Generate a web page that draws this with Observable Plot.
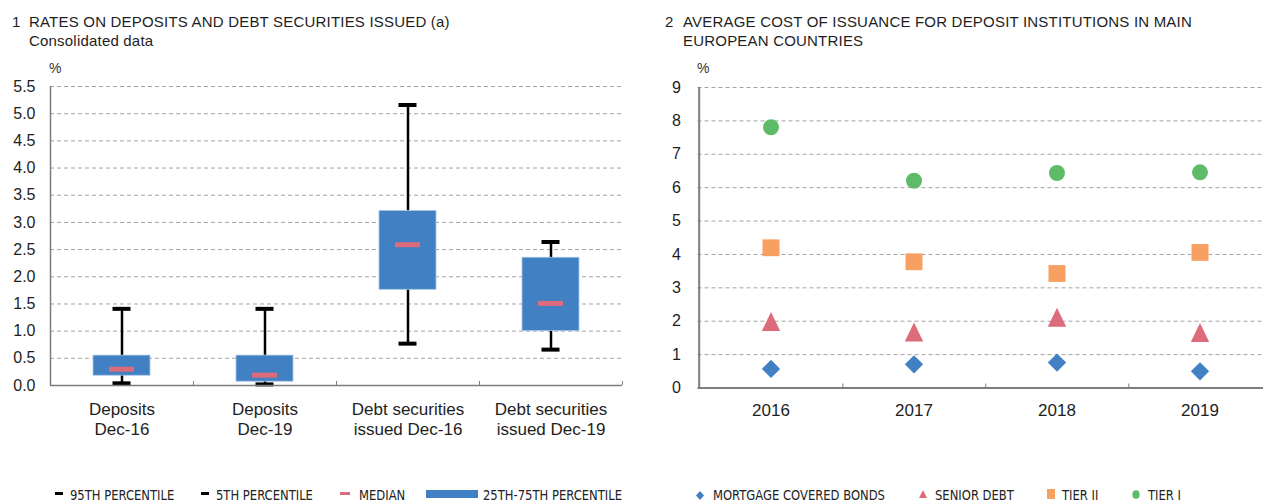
<!DOCTYPE html>
<html>
<head>
<meta charset="utf-8">
<script src="https://cdn.jsdelivr.net/npm/d3@7"></script>
<script src="https://cdn.jsdelivr.net/npm/@observablehq/plot@0.6"></script>
<style>
  body { margin: 0; background: #fff; }
  #root { position: relative; width: 1263px; height: 501px; overflow: hidden; background: #fff;
          font-family: "Liberation Sans", Arial, Helvetica, sans-serif; color: #1e1e1e; }
  .abs { position: absolute; white-space: nowrap; }
  .title { font-size: 15px; line-height: 18.5px; letter-spacing: 0.2px; }
  .pct { font-size: 14px; line-height: 14px; color: #333; }
  .leg { font-family: "Liberation Sans Narrow", "Arial Narrow", "DejaVu Sans Condensed", sans-serif;
         font-size: 14px; line-height: 14px; color: #222; transform: scaleX(0.92); transform-origin: 0 0; }
  .sw { position: absolute; }
  #left, #right { position: absolute; top: 0; width: 640px; }
  #left { left: 0; }
  #right { left: 640px; }
  #left svg, #right svg { max-width: none !important; }
</style>
</head>
<body>
<div id="root">
  <div class="abs title" style="left:12px;top:13px;">1</div>
  <div class="abs title" style="left:29px;top:13px;">RATES ON DEPOSITS AND DEBT SECURITIES ISSUED (a)<br>Consolidated data</div>
  <div class="abs title" style="left:665px;top:13px;">2</div>
  <div class="abs title" style="left:683px;top:13px;">AVERAGE COST OF ISSUANCE FOR DEPOSIT INSTITUTIONS IN MAIN<br>EUROPEAN COUNTRIES</div>
  <div class="abs pct" style="left:49px;top:61px;">%</div>
  <div class="abs pct" style="left:697px;top:61px;">%</div>
  <div id="left"></div>
  <div id="right"></div>
  <div id="legend"></div>
</div>
<script>
// ---------- Panel 1 data ----------
const categories = ["Deposits\nDec-16", "Deposits\nDec-19", "Debt securities\nissued Dec-16", "Debt securities\nissued Dec-19"];
const p95 = [1.41, 1.41, 5.16, 2.64];
const p5 = [0.04, 0.02, 0.77, 0.66];
const q75 = [0.55, 0.55, 3.21, 2.35];
const q25 = [0.18, 0.07, 1.76, 1.00];
const medians = [0.30, 0.19, 2.59, 1.51];
const leftTicks = [0, 0.5, 1.0, 1.5, 2.0, 2.5, 3.0, 3.5, 4.0, 4.5, 5.0, 5.5];
const leftLegend = ["95TH PERCENTILE", "5TH PERCENTILE", "MEDIAN", "25TH-75TH PERCENTILE"];

// ---------- Panel 2 data ----------
const years = ["2016", "2017", "2018", "2019"];
const mortgageCovered = [0.57, 0.71, 0.76, 0.50];
const seniorDebt = [1.99, 1.68, 2.12, 1.66];
const tierII = [4.20, 3.78, 3.43, 4.06];
const tierI = [7.81, 6.21, 6.44, 6.46];
const rightTicks = [0, 1, 2, 3, 4, 5, 6, 7, 8, 9];
const rightLegend = ["MORTGAGE COVERED BONDS", "SENIOR DEBT", "TIER II", "TIER I"];

const BLUE = "#4080c3", PINK = "#dc6b7b", ORANGE = "#f7a062", GREEN = "#5ebc69";
const GRID = "#a3a3a3", AXIS = "#7d7d7d";
const FONT = "'Liberation Sans', Arial, Helvetica, sans-serif";

// custom marker shapes (centered on their bounding box)
const diamondSym = {draw(ctx) { const h = 9.15; ctx.moveTo(0, -h); ctx.lineTo(h, 0); ctx.lineTo(0, h); ctx.lineTo(-h, 0); ctx.closePath(); }};
const triangleSym = {draw(ctx) { const w = 9.2, h = 9.5; ctx.moveTo(0, -h); ctx.lineTo(w, h); ctx.lineTo(-w, h); ctx.closePath(); }};
const squareSym = {draw(ctx) { const w = 8.5, h = 8.4; ctx.rect(-w, -h, 2 * w, 2 * h); }};

// ---------- Panel 1 ----------
const boxes = categories.map((c, i) => ({c, hi: p95[i], lo: p5[i], q3: q75[i], q1: q25[i], med: medians[i]}));
const L = {w: 640, h: 450, ml: 50, mr: 18, mt: 86, mb: 65};
const lBand = (L.w - L.ml - L.mr) / categories.length;
const lFrameH = L.h - L.mt - L.mb;

const left = Plot.plot({
  width: L.w, height: L.h,
  marginLeft: L.ml, marginRight: L.mr, marginTop: L.mt, marginBottom: L.mb,
  x: {type: "band", domain: categories, padding: 0, axis: null},
  y: {domain: [0, 5.5], axis: null},
  style: {fontFamily: FONT, fontSize: "16px", color: "#1e1e1e", background: "transparent", overflow: "visible", maxWidth: "none"},
  marks: [
    Plot.ruleY(leftTicks.filter(d => d > 0), {y: d => d, stroke: GRID, strokeWidth: 1, strokeDasharray: "4,3"}),
    Plot.ruleX(boxes, {x: "c", y1: "lo", y2: "hi", stroke: "#000", strokeWidth: 2.5}),
    Plot.barY(boxes, {x: "c", y1: "q1", y2: "q3", fill: BLUE, stroke: "#a9c5e6", strokeWidth: 0.8,
                      insetLeft: (lBand - 57) / 2, insetRight: (lBand - 57) / 2}),
    Plot.tickY(boxes, {x: "c", y: "hi", stroke: "#000", strokeWidth: 4, insetLeft: (lBand - 18) / 2, insetRight: (lBand - 18) / 2}),
    Plot.tickY(boxes, {x: "c", y: "lo", stroke: "#000", strokeWidth: 4, insetLeft: (lBand - 18) / 2, insetRight: (lBand - 18) / 2}),
    Plot.tickY(boxes, {x: "c", y: "med", stroke: PINK, strokeWidth: 5, insetLeft: (lBand - 25) / 2, insetRight: (lBand - 25) / 2}),
    Plot.ruleY([0], {y: d => d, stroke: AXIS, strokeWidth: 1.5}),
    Plot.ruleX([categories[0]], {x: d => d, dx: -lBand / 2, stroke: AXIS, strokeWidth: 1.5}),
    Plot.ruleX(categories, {x: d => d, dx: lBand / 2, insetTop: lFrameH - 4, stroke: AXIS, strokeWidth: 1}),
    Plot.text(leftTicks, {y: d => d, text: d => d.toFixed(1), frameAnchor: "left", textAnchor: "end", dx: -15, fontSize: 16, fill: "#1e1e1e"}),
    Plot.text(categories, {x: d => d, text: d => d, frameAnchor: "bottom", lineAnchor: "top", dy: 15, fontSize: 17, lineHeight: 1.18, fill: "#1e1e1e"})
  ]
});
document.getElementById("left").appendChild(left);

// ---------- Panel 2 ----------
const R = {w: 640, h: 450, ml: 57.5, mr: 8, mt: 87, mb: 62.5};
const rBand = (R.w - R.ml - R.mr) / years.length;
const rFrameH = R.h - R.mt - R.mb;
const pts = (vals) => years.map((y, i) => ({year: y, v: vals[i]}));

const right = Plot.plot({
  width: R.w, height: R.h,
  marginLeft: R.ml, marginRight: R.mr, marginTop: R.mt, marginBottom: R.mb,
  x: {type: "band", domain: years, padding: 0, axis: null},
  y: {domain: [0, 9], axis: null},
  style: {fontFamily: FONT, fontSize: "16px", color: "#1e1e1e", background: "transparent", overflow: "visible", maxWidth: "none"},
  marks: [
    Plot.ruleY(rightTicks.filter(d => d > 0), {y: d => d, stroke: GRID, strokeWidth: 1, strokeDasharray: "4,3"}),
    Plot.ruleY([0], {y: d => d, stroke: AXIS, strokeWidth: 2}),
    Plot.ruleX([years[0]], {x: d => d, dx: -rBand / 2, stroke: AXIS, strokeWidth: 2}),
    Plot.ruleX(years, {x: d => d, dx: rBand / 2, insetTop: rFrameH - 4, stroke: AXIS, strokeWidth: 1}),
    Plot.dot(pts(mortgageCovered), {x: "year", y: "v", symbol: diamondSym, r: 8, fill: BLUE, stroke: "none"}),
    Plot.dot(pts(seniorDebt), {x: "year", y: "v", symbol: triangleSym, r: 8, fill: PINK, stroke: "none"}),
    Plot.dot(pts(tierII), {x: "year", y: "v", symbol: squareSym, r: 8, fill: ORANGE, stroke: "none"}),
    Plot.dot(pts(tierI), {x: "year", y: "v", symbol: "circle", r: 8, fill: GREEN, stroke: "none"}),
    Plot.text(rightTicks, {y: d => d, text: d => String(d), frameAnchor: "left", textAnchor: "end", dx: -17, fontSize: 16, fill: "#1e1e1e"}),
    Plot.text(years, {x: d => d, text: d => d, frameAnchor: "bottom", lineAnchor: "top", dy: 16, fontSize: 17, fill: "#1e1e1e"})
  ]
});
document.getElementById("right").appendChild(right);

// ---------- Legends ----------
const legendEl = document.getElementById("legend");
function addSwatch(x, y, w, h, svgInner) {
  const s = document.createElementNS("http://www.w3.org/2000/svg", "svg");
  s.setAttribute("width", w); s.setAttribute("height", h);
  s.setAttribute("class", "sw");
  s.style.left = x + "px"; s.style.top = y + "px";
  s.innerHTML = svgInner;
  legendEl.appendChild(s);
}
function addText(x, label) {
  const d = document.createElement("div");
  d.className = "abs leg";
  d.style.left = x + "px"; d.style.top = "487.5px";
  d.textContent = label;
  legendEl.appendChild(d);
}
// left legend
addSwatch(55, 492, 8, 3, `<rect width="8" height="3" fill="#000"/>`);
addText(70, leftLegend[0]);
addSwatch(201, 492, 8, 3, `<rect width="8" height="3" fill="#000"/>`);
addText(216, leftLegend[1]);
addSwatch(340, 492, 10, 3, `<rect width="10" height="3" fill="${PINK}"/>`);
addText(359, leftLegend[2]);
addSwatch(426, 489.5, 52, 8, `<rect width="52" height="8" fill="${BLUE}"/>`);
addText(483, leftLegend[3]);
// right legend
addSwatch(696, 491, 8, 9, `<path d="M4 0 L8 4.5 L4 9 L0 4.5 Z" fill="${BLUE}"/>`);
addText(713, rightLegend[0]);
addSwatch(919, 490, 8, 8, `<path d="M4 0 L8 8 L0 8 Z" fill="${PINK}"/>`);
addText(935, rightLegend[1]);
addSwatch(1047, 489, 8, 10, `<rect width="8" height="10" fill="${ORANGE}"/>`);
addText(1062, rightLegend[2]);
addSwatch(1132, 490, 8, 9, `<ellipse cx="4" cy="4.5" rx="3.6" ry="4.3" fill="${GREEN}"/>`);
addText(1148, rightLegend[3]);
</script>
</body>
</html>
